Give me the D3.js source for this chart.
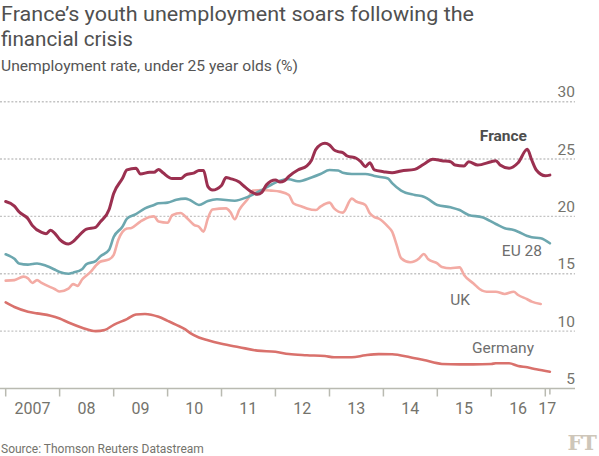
<!DOCTYPE html>
<html>
<head>
<meta charset="utf-8">
<script src="https://cdn.jsdelivr.net/npm/d3@7"></script>
<style>
  html, body { margin: 0; padding: 0; background: #ffffff; }
  svg { display: block; font-family: Roboto, "Noto Sans", sans-serif; }
</style>
</head>
<body>
<svg id="chart" width="599" height="456"></svg>
<script>
// ---------- data ----------
const title = ["France\u2019s youth unemployment soars following the", "financial crisis"];
const subtitle = "Unemployment rate, under 25 year olds (%)";
const source = "Source: Thomson Reuters Datastream";

const yTicks = [5, 10, 15, 20, 25, 30];
const yearTicks = [2007, 2008, 2009, 2010, 2011, 2012, 2013, 2014, 2015, 2016, 2017];
const yearLabels = ["2007", "08", "09", "10", "11", "12", "13", "14", "15", "16", "17"];

const seriesNames = ["Germany", "UK", "EU 28", "France"];

const france = [
  ["2007-01",21.3],["2007-03",20.9],["2007-04",20.4],["2007-06",19.8],["2007-07",19.2],["2007-09",18.6],
  ["2007-10",18.5],["2007-11",18.8],["2007-12",18.5],["2008-01",18.0],["2008-03",17.6],["2008-04",17.8],
  ["2008-05",18.2],["2008-07",18.9],["2008-09",19.05],["2008-10",19.5],["2008-12",20.6],["2009-01",22.0],
  ["2009-03",23.3],["2009-04",24.05],["2009-06",24.2],["2009-07",23.7],["2009-09",23.85],["2009-10",23.85],
  ["2009-11",24.1],["2009-12",23.8],["2010-02",23.3],["2010-04",23.3],["2010-05",23.6],["2010-07",23.8],
  ["2010-08",24.0],["2010-09",24.0],["2010-10",22.6],["2010-11",22.3],["2011-01",22.7],["2011-02",23.4],
  ["2011-03",23.3],["2011-05",23.0],["2011-06",22.65],["2011-08",22.07],["2011-09",21.93],["2011-10",22.1],
  ["2011-11",22.75],["2012-01",23.18],["2012-02",23.0],["2012-03",23.1],["2012-04",23.5],["2012-06",24.05],
  ["2012-08",24.4],["2012-09",24.9],["2012-10",25.85],["2012-12",26.38],["2013-01",26.23],["2013-02",25.8],
  ["2013-03",25.65],["2013-04",25.56],["2013-05",25.27],["2013-07",25.07],["2013-08",24.77],["2013-09",24.34],
  ["2013-10",24.68],["2013-11",24.05],["2014-01",23.9],["2014-03",23.8],["2014-05",23.96],["2014-08",24.1],
  ["2014-10",24.55],["2014-12",24.98],["2015-02",24.86],["2015-04",24.77],["2015-05",24.48],["2015-07",24.4],
  ["2015-08",24.77],["2015-10",24.48],["2016-01",24.77],["2016-02",24.86],["2016-03",24.48],["2016-05",24.2],
  ["2016-07",24.68],["2016-09",25.85],["2016-10",24.92],["2016-11",24.05],["2017-01",23.55],["2017-02",23.6]
];

const eu28 = [
  ["2007-01",16.7],["2007-03",16.3],["2007-04",15.9],["2007-06",15.8],["2007-07",15.85],["2007-08",15.9],
  ["2007-10",15.7],["2007-12",15.35],["2008-01",15.15],["2008-03",15.0],["2008-04",15.1],["2008-06",15.4],
  ["2008-07",15.85],["2008-09",16.1],["2008-10",16.5],["2008-12",17.1],["2009-01",18.2],["2009-03",19.1],
  ["2009-04",19.8],["2009-06",20.2],["2009-08",20.7],["2009-10",21.0],["2009-11",21.15],["2010-01",21.2],
  ["2010-03",21.45],["2010-05",21.55],["2010-06",21.43],["2010-08",21.0],["2010-10",21.35],["2010-12",21.5],
  ["2011-04",21.37],["2011-07",21.72],["2011-10",22.3],["2011-12",22.74],["2012-02",23.12],["2012-04",23.24],
  ["2012-06",23.06],["2012-09",23.4],["2012-11",23.7],["2013-01",24.05],["2013-03",24.0],["2013-04",23.8],
  ["2013-06",23.7],["2013-09",23.7],["2013-11",23.53],["2013-12",23.45],["2014-02",23.3],["2014-03",22.9],
  ["2014-05",22.25],["2014-08",21.87],["2014-10",21.72],["2014-11",21.5],["2015-01",21.0],["2015-04",20.8],
  ["2015-06",20.56],["2015-08",20.13],["2015-11",19.93],["2016-02",19.34],["2016-04",18.97],["2016-06",18.82],
  ["2016-07",18.67],["2016-09",18.3],["2016-10",18.18],["2016-12",18.1],["2017-02",17.66]
];

const uk = [
  ["2007-01",14.4],["2007-03",14.45],["2007-05",14.75],["2007-06",14.6],["2007-07",14.2],["2007-08",14.45],
  ["2007-09",14.2],["2007-12",13.65],["2008-01",13.45],["2008-03",13.7],["2008-04",14.1],["2008-05",13.95],
  ["2008-06",14.5],["2008-08",15.2],["2008-09",15.7],["2008-10",16.05],["2008-12",16.25],["2009-01",16.65],
  ["2009-02",17.95],["2009-04",18.95],["2009-05",19.0],["2009-07",19.55],["2009-09",19.95],["2009-10",20.0],
  ["2009-11",19.55],["2010-01",19.45],["2010-02",20.1],["2010-04",20.3],["2010-05",20.0],["2010-07",19.25],
  ["2010-08",19.1],["2010-09",18.67],["2010-10",19.84],["2010-11",20.6],["2011-02",20.7],["2011-03",20.4],
  ["2011-04",19.75],["2011-05",20.56],["2011-07",21.58],["2011-08",22.25],["2011-10",22.3],["2011-12",22.25],
  ["2012-02",22.16],["2012-04",21.87],["2012-05",21.15],["2012-07",20.85],["2012-08",20.7],["2012-10",20.56],
  ["2012-11",20.85],["2013-01",21.2],["2013-02",20.7],["2013-04",20.33],["2013-06",21.55],["2013-07",21.3],
  ["2013-09",21.0],["2013-10",20.27],["2013-11",19.93],["2013-12",19.8],["2014-02",19.1],["2014-03",18.67],
  ["2014-04",17.5],["2014-05",16.35],["2014-07",16.0],["2014-09",16.35],["2014-10",16.73],["2014-11",16.26],
  ["2015-01",15.9],["2015-02",15.6],["2015-04",15.48],["2015-06",15.56],["2015-07",14.9],["2015-09",14.17],
  ["2015-11",13.53],["2015-12",13.44],["2016-02",13.44],["2016-04",13.24],["2016-06",13.44],["2016-07",13.15],
  ["2016-09",12.78],["2016-10",12.57],["2016-12",12.37]
];

const germany = [
  ["2007-01",12.5],["2007-03",12.1],["2007-06",11.7],["2007-08",11.55],["2007-11",11.35],["2008-01",11.1],
  ["2008-03",10.75],["2008-06",10.3],["2008-09",10.0],["2008-11",10.1],["2009-01",10.55],["2009-04",11.05],
  ["2009-06",11.45],["2009-08",11.5],["2009-11",11.25],["2010-01",10.9],["2010-03",10.55],["2010-05",10.15],
  ["2010-06",9.85],["2010-08",9.45],["2010-10",9.2],["2011-01",8.9],["2011-05",8.6],["2011-09",8.3],
  ["2012-01",8.2],["2012-04",8.0],["2012-08",7.9],["2012-12",7.83],["2013-02",7.72],["2013-06",7.72],
  ["2013-09",7.9],["2013-12",8.0],["2014-03",7.98],["2014-07",7.72],["2014-10",7.48],["2015-02",7.14],
  ["2015-06",7.1],["2015-09",7.1],["2016-01",7.14],["2016-02",7.2],["2016-05",7.2],["2016-07",6.96],
  ["2016-09",6.85],["2016-11",6.67],["2017-02",6.46]
];

// ---------- drawing ----------
const parse = d3.timeParse("%Y-%m");
const svg = d3.select("#chart");

const x = d3.scaleTime()
  .domain([new Date(2007, 0, 1), new Date(2017, 0, 1)])
  .range([5.7, 545.3]);
const y = d3.scaleLinear().domain([5, 30]).range([388.5, 101.7]);

const gridRight = 575;
const labelColor = "#74736c";

// title / subtitle
svg.append("text").attr("x", 1).attr("y", 21).attr("font-size", 20).attr("fill", "#505050")
  .attr("textLength", 473).attr("lengthAdjust", "spacingAndGlyphs")
  .text(title[0]);
svg.append("text").attr("x", 1).attr("y", 45.5).attr("font-size", 20).attr("fill", "#505050")
  .attr("textLength", 132).attr("lengthAdjust", "spacingAndGlyphs")
  .text(title[1]);
svg.append("text").attr("x", 1).attr("y", 71).attr("font-size", 14.5).attr("fill", "#555555")
  .attr("textLength", 297).attr("lengthAdjust", "spacingAndGlyphs")
  .text(subtitle);

// gridlines
svg.append("g").selectAll("line").data(yTicks.filter(v => v > 5)).join("line")
  .attr("x1", 0).attr("x2", gridRight)
  .attr("y1", d => y(d)).attr("y2", d => y(d))
  .attr("stroke", "#c4c4c4").attr("stroke-width", 1.4)
  .attr("stroke-dasharray", "2,1.8");

// y labels
svg.append("g").selectAll("text").data(yTicks).join("text")
  .attr("x", gridRight).attr("y", d => y(d) - 4.5)
  .attr("text-anchor", "end").attr("font-size", 15.5).attr("fill", labelColor)
  .text(d => d);

// x axis baseline
svg.append("line").attr("x1", 0).attr("x2", gridRight)
  .attr("y1", y(5)).attr("y2", y(5))
  .attr("stroke", "#b9bab1").attr("stroke-width", 1.5);

// year ticks
svg.append("g").selectAll("line").data(yearTicks).join("line")
  .attr("x1", d => x(new Date(d, 0, 1))).attr("x2", d => x(new Date(d, 0, 1)))
  .attr("y1", y(5)).attr("y2", y(5) + 8)
  .attr("stroke", "#b9bab1").attr("stroke-width", 1.5);
// end-of-data tick
const lastDate = parse(france[france.length - 1][0]);
svg.append("line").attr("x1", x(lastDate)).attr("x2", x(lastDate))
  .attr("y1", y(5)).attr("y2", y(5) + 6)
  .attr("stroke", "#b9bab1").attr("stroke-width", 1.5);

// year labels
svg.append("g").selectAll("text").data(yearTicks).join("text")
  .attr("x", (d, i) => d < 2017 ? x(new Date(d, 6, 1)) : x(new Date(d, 0, 1)) + 2)
  .attr("y", 414)
  .attr("text-anchor", "middle").attr("font-size", 16).attr("fill", labelColor)
  .text((d, i) => yearLabels[i]);

// lines
const line = d3.line()
  .x(d => x(parse(d[0])))
  .y(d => y(d[1]))
  .curve(d3.curveMonotoneX);

const series = [
  { name: seriesNames[0], data: germany, color: "#d9716c", width: 2.6 },
  { name: seriesNames[1], data: uk, color: "#f3aba4", width: 2.6 },
  { name: seriesNames[2], data: eu28, color: "#6ca7af", width: 2.6 },
  { name: seriesNames[3], data: france, color: "#9b3050", width: 3 }
];

svg.append("g").selectAll("path").data(series).join("path")
  .attr("d", d => line(d.data))
  .attr("fill", "none")
  .attr("stroke", d => d.color)
  .attr("stroke-width", d => d.width)
  .attr("stroke-linejoin", "round")
  .attr("stroke-linecap", "round");

// series labels
const labelG = svg.append("g").attr("font-size", 15.5);
labelG.append("text").attr("x", 527).attr("y", 140.5).attr("text-anchor", "end")
  .attr("font-weight", "bold").attr("fill", "#4d4d4d").text(seriesNames[3]);
labelG.append("text").attr("x", 542).attr("y", 256).attr("text-anchor", "end")
  .attr("fill", "#6e6e6e").text(seriesNames[2]);
labelG.append("text").attr("x", 470).attr("y", 305).attr("text-anchor", "end")
  .attr("fill", "#6e6e6e").text(seriesNames[1]);
labelG.append("text").attr("x", 534).attr("y", 352.5).attr("text-anchor", "end")
  .attr("fill", "#6e6e6e").text(seriesNames[0]);

// source
svg.append("text").attr("x", 1).attr("y", 453).attr("font-size", 12).attr("fill", "#74736c")
  .text(source);

// FT logo
svg.append("text").attr("x", 596).attr("y", 450).attr("text-anchor", "end")
  .attr("font-family", "'DejaVu Serif', 'Liberation Serif', serif").attr("font-weight", "bold")
  .attr("font-size", 21).attr("fill", "#cec6b9").attr("letter-spacing", -1).text("FT");
</script>
</body>
</html>
